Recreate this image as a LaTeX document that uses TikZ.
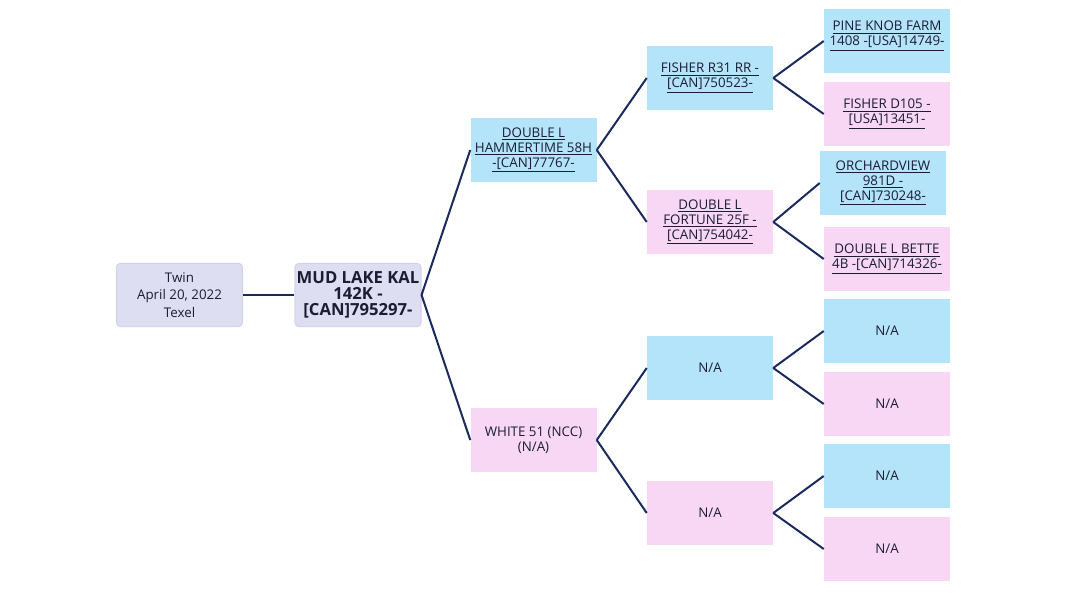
\documentclass[tikz,border=0pt]{standalone}
\usepackage{fontspec}
\setmainfont{Open Sans}
\begin{document}
\begin{tikzpicture}[x=0.75pt,y=-0.75pt,
  base/.style={minimum width=94.5pt, minimum height=47.5pt, inner sep=0pt, align=center, text=txt,
    font=\fontsize{10}{11.25}\selectfont},
  sire/.style={base, fill=sireblue},
  dam/.style={base, fill=dampink},
  root/.style={base, fill=lav, draw=lavborder, line width=0.8pt, rounded corners=3pt},
  conn/.style={draw=linec, line width=1.5pt}]
\definecolor{sireblue}{HTML}{B3E4FA}
\definecolor{dampink}{HTML}{F8D7F4}
\definecolor{lav}{HTML}{DEDEF2}
\definecolor{lavborder}{HTML}{D2D2EA}
\definecolor{linec}{HTML}{1B2A5C}
\definecolor{txt}{HTML}{1C1C34}
\useasboundingbox (0,0) rectangle (1067,600);
\newcommand{\ul}[1]{\underline{#1}}
% root
\node[root, font=\fontsize{10}{13}\selectfont] (info) at (179.5,295) {Twin\\April 20, 2022\\Texel};
\node[root, font=\fontsize{12.5}{12}\selectfont\bfseries] (main) at (358,295) {MUD LAKE KAL\\142K -\\{[CAN]795297-}};
% gen 1
\node[sire] (s) at (533.5,150) {\ul{DOUBLE L}\\\ul{HAMMERTIME 58H}\\\ul{-[CAN]77767-}};
\node[dam] (d) at (533.5,440) {WHITE 51 (NCC)\\(N/A)};
% gen 2
\node[sire] (ss) at (710,78) {\ul{FISHER R31 RR -}\\\ul{[CAN]750523-}};
\node[dam] (sd) at (710,222) {\ul{DOUBLE L}\\\ul{FORTUNE 25F -}\\\ul{[CAN]754042-}};
\node[sire] (ds) at (710,368) {N/A};
\node[dam] (dd) at (710,513) {N/A};
% gen 3
\node[sire] (sss) at (887,41) {\ul{PINE KNOB FARM}\\\ul{1408 -[USA]14749-}\\\mbox{}};
\node[dam] (ssd) at (887,114) {\ul{FISHER D105 -}\\\ul{[USA]13451-}};
\node[sire] (sds) at (883,183) {\ul{ORCHARDVIEW}\\\ul{981D -}\\\ul{[CAN]730248-}};
\node[dam] (sdd) at (887,259) {\ul{DOUBLE L BETTE}\\\ul{4B -[CAN]714326-}};
\node[sire] (dss) at (887,331) {N/A};
\node[dam] (dsd) at (887,404) {N/A};
\node[sire] (dds) at (887,476) {N/A};
\node[dam] (ddd) at (887,549) {N/A};
% connectors
\draw[conn] (info.east) -- (main.west);
\draw[conn] (main.east) -- (s.west);
\draw[conn] (main.east) -- (d.west);
\draw[conn] (s.east) -- (ss.west);
\draw[conn] (s.east) -- (sd.west);
\draw[conn] (d.east) -- (ds.west);
\draw[conn] (d.east) -- (dd.west);
\draw[conn] (ss.east) -- (sss.west);
\draw[conn] (ss.east) -- (ssd.west);
\draw[conn] (sd.east) -- (sds.west);
\draw[conn] (sd.east) -- (sdd.west);
\draw[conn] (ds.east) -- (dss.west);
\draw[conn] (ds.east) -- (dsd.west);
\draw[conn] (dd.east) -- (dds.west);
\draw[conn] (dd.east) -- (ddd.west);
\end{tikzpicture}
\end{document}
